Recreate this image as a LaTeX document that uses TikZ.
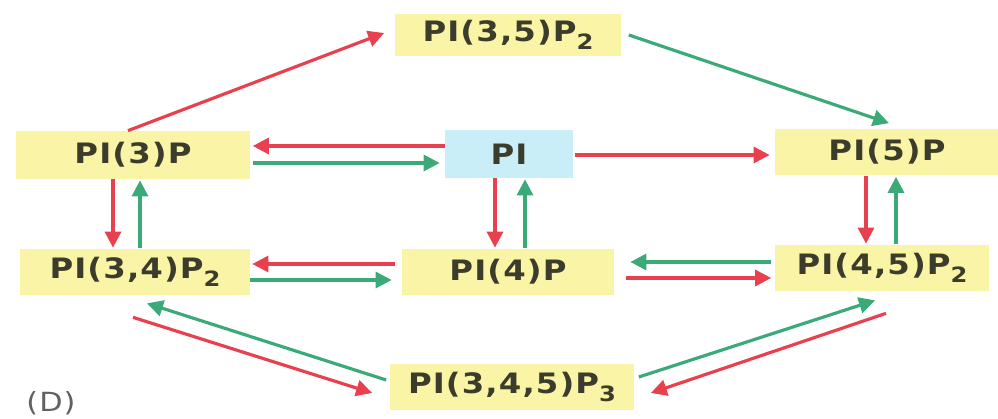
\documentclass[tikz,border=0pt]{standalone}
\usepackage{fontspec}
\usepackage{xcolor}
\usepackage{tikz}
\usetikzlibrary{arrows.meta}
\setmainfont{DejaVu Sans}
\newfontfamily\lipidfont[FakeStretch=1.15, LetterSpace=4]{DejaVu Sans}
\definecolor{kinasered}{HTML}{E8404E}
\definecolor{phosgreen}{HTML}{3BAA78}
\definecolor{lipidyellow}{HTML}{FAF5A6}
\definecolor{piblue}{HTML}{C9EEF8}
\definecolor{lipidtext}{HTML}{3C3C2C}
\newcommand{\pisub}[1]{\raisebox{-0.5ex}{\fontsize{12}{12}\selectfont #1}}

\begin{document}
\begin{tikzpicture}[x=0.02cm, y=-0.02cm,
    pibox/.style={fill=lipidyellow, text=lipidtext, inner sep=0pt,
        font=\lipidfont\bfseries\fontsize{16}{18}\selectfont},
    kinase/.style={kinasered, line width=1.8pt, -{Triangle[length=0.32cm,width=0.32cm]}},
    phosphatase/.style={phosgreen, line width=1.8pt, -{Triangle[length=0.32cm,width=0.32cm]}}]
    \useasboundingbox (0,0) rectangle (998,419);

    % Lipid boxes
    \node[pibox, minimum width=4.54cm, minimum height=0.84cm] (p35) at (508,35) {PI(3,5)P\pisub{2}};
    \node[pibox, minimum width=4.7cm, minimum height=0.96cm] (p3) at (133,155) {PI(3)P};
    \node[pibox, fill=piblue, minimum width=2.56cm, minimum height=0.96cm] (pi) at (509,154) {PI};
    \node[pibox, minimum width=4.48cm, minimum height=0.94cm] (p5) at (887,152) {PI(5)P};
    \node[pibox, minimum width=4.6cm, minimum height=0.92cm] (p34) at (135,272) {PI(3,4)P\pisub{2}};
    \node[pibox, minimum width=4.24cm, minimum height=0.92cm] (p4) at (508,272) {PI(4)P};
    \node[pibox, minimum width=4.3cm, minimum height=0.92cm] (p45) at (882,268) {PI(4,5)P\pisub{2}};
    \node[pibox, minimum width=4.9cm, minimum height=0.92cm] (p345) at (512,387) {PI(3,4,5)P\pisub{3}};
    \node[text=black!62, font=\lipidfont\fontsize{15}{17}\selectfont] (panel) at (51,403) {(D)};

    % Top route through PI(3,5)P2
    \draw[kinase] ([shift={(-5,0)}]p3.north) -- ([shift={(-10,-2)}]p35.west);
    \draw[phosphatase] ([shift={(7,0)}]p35.east) -- ([shift={(2,-5)}]p5.north);

    % Middle row
    \draw[kinase] ([shift={(0,-8)}]pi.west) -- ([shift={(2,-9)}]p3.east);
    \draw[phosphatase] ([shift={(2,8)}]p3.east) -- ([shift={(-5,9)}]pi.west);
    \draw[kinase] ([shift={(2,1)}]pi.east) -- ([shift={(-5,3)}]p5.west);

    % Vertical pairs
    \draw[kinase] ([shift={(-20,0)}]p3.south) -- ([shift={(-22,-1)}]p34.north);
    \draw[phosphatase] ([shift={(5,-1)}]p34.north) -- ([shift={(7,1)}]p3.south);
    \draw[kinase] ([shift={(-14,0)}]pi.south) -- ([shift={(-13,-1)}]p4.north);
    \draw[phosphatase] ([shift={(17,-1)}]p4.north) -- ([shift={(16,1)}]pi.south);
    \draw[kinase] ([shift={(-21,0)}]p5.south) -- ([shift={(-16,-1)}]p45.north);
    \draw[phosphatase] ([shift={(14,-1)}]p45.north) -- ([shift={(9,1)}]p5.south);

    % Bottom row
    \draw[kinase] ([shift={(-7,-8)}]p4.west) -- ([shift={(2,-8)}]p34.east);
    \draw[phosphatase] ([shift={(0,8)}]p34.east) -- ([shift={(-10,8)}]p4.west);
    \draw[phosphatase] ([shift={(-3,-6)}]p45.west) -- ([shift={(16,-10)}]p4.east);
    \draw[kinase] ([shift={(12,6)}]p4.east) -- ([shift={(-3,10)}]p45.west);

    % To and from PI(3,4,5)P3
    \draw[kinase] ([shift={(-2,22)}]p34.south) -- ([shift={(-17,6)}]p345.west);
    \draw[phosphatase] ([shift={(-3,-7)}]p345.west) -- ([shift={(12,8)}]p34.south);
    \draw[phosphatase] ([shift={(4,-10)}]p345.east) -- ([shift={(-7,9)}]p45.south);
    \draw[kinase] ([shift={(4,22)}]p45.south) -- ([shift={(16,6)}]p345.east);
\end{tikzpicture}
\end{document}
